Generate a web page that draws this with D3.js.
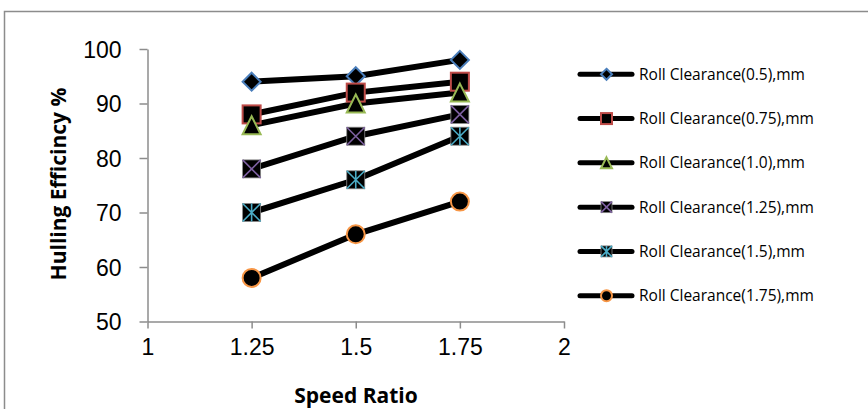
<!DOCTYPE html>
<html><head><meta charset="utf-8">
<script src="https://cdn.jsdelivr.net/npm/d3@7"></script>
<style>body{margin:0;background:#fff;} svg{display:block;}</style>
</head><body>
<svg id="c" width="868" height="409"></svg>
<script>
const speedRatios = [1.25, 1.5, 1.75];
const seriesNames = ["Roll Clearance(0.5),mm","Roll Clearance(0.75),mm","Roll Clearance(1.0),mm","Roll Clearance(1.25),mm","Roll Clearance(1.5),mm","Roll Clearance(1.75),mm"];
const rc050 = [94, 95, 98];
const rc075 = [88, 92, 94];
const rc100 = [86, 90, 92];
const rc125 = [78, 84, 88];
const rc150 = [70, 76, 84];
const rc175 = [58, 66, 72];
const xTicks = [1, 1.25, 1.5, 1.75, 2];
const yTicks = [50, 60, 70, 80, 90, 100];
const markerTypes = ["diamond","square","triangle","x","star","circle"];
const markerColors = ["#4a7ebb","#be4b48","#98b954","#7d60a0","#4bacc6","#f79646"];
const allSeries = [rc050, rc075, rc100, rc125, rc150, rc175];

const svg = d3.select("#c");
// outer border
svg.append("rect").attr("x",4.5).attr("y",11.5).attr("width",900).attr("height",500)
  .attr("fill","none").attr("stroke","#8c8c8c").attr("stroke-width",1.5);

const x = d3.scaleLinear().domain([1,2]).range([147.5,564]);
const y = d3.scaleLinear().domain([50,100]).range([321.5,49]);

const axisColor = "#8c8c8c";
const gx = svg.append("g").attr("transform","translate(0,321.5)")
  .call(d3.axisBottom(x).tickValues(xTicks).tickSize(7).tickSizeOuter(0).tickPadding(6).tickFormat(d3.format("")));
const gy = svg.append("g").attr("transform","translate(147.5,0)")
  .call(d3.axisLeft(y).tickValues(yTicks).tickSize(8).tickSizeOuter(0).tickPadding(18));
[gx, gy].forEach(g => {
  g.select(".domain").attr("stroke",axisColor).attr("stroke-width",1.5);
  g.selectAll(".tick line").attr("stroke",axisColor).attr("stroke-width",1.5);
  g.selectAll(".tick text").attr("fill","#000").style("font-family","'Liberation Sans', Arial, sans-serif").style("font-size","23px");
});
gx.selectAll(".tick text").attr("dy","0.9em");
gy.selectAll(".tick text").attr("dy","0.35em");

// axis titles
svg.append("text").attr("x",356).attr("y",403).attr("text-anchor","middle")
  .style("font-family","'Open Sans', sans-serif").style("font-weight","bold").style("font-size","21px").text("Speed Ratio");
svg.append("text").attr("transform","translate(66,184) rotate(-90)").attr("text-anchor","middle")
  .style("font-family","'Open Sans', sans-serif").style("font-weight","bold").style("font-size","21px").text("Hulling Efficincy %");

function drawMarker(g, type, color, s) {
  const h = s/2;
  if (type === "diamond") {
    g.append("path").attr("d",`M0,${-h}L${h},0L0,${h}L${-h},0Z`).attr("fill","#000").attr("stroke",color).attr("stroke-width",2);
  } else if (type === "square") {
    g.append("rect").attr("x",-h).attr("y",-h).attr("width",s).attr("height",s).attr("fill","#000").attr("stroke",color).attr("stroke-width",2);
  } else if (type === "triangle") {
    g.append("path").attr("d",`M0,${-h}L${h},${h}L${-h},${h}Z`).attr("fill","#000").attr("stroke",color).attr("stroke-width",2);
  } else if (type === "x") {
    g.append("rect").attr("x",-h).attr("y",-h).attr("width",s).attr("height",s).attr("fill","#000").attr("stroke","#888").attr("stroke-width",0.8);
    g.append("path").attr("d",`M${-h},${-h}L${h},${h}M${h},${-h}L${-h},${h}`).attr("stroke",color).attr("stroke-width",1.6);
  } else if (type === "star") {
    g.append("rect").attr("x",-h).attr("y",-h).attr("width",s).attr("height",s).attr("fill","#000").attr("stroke","#888").attr("stroke-width",0.8);
    g.append("path").attr("d",`M${-h},${-h}L${h},${h}M${h},${-h}L${-h},${h}M0,${-h}L0,${h}`).attr("stroke",color).attr("stroke-width",1.6);
  } else if (type === "circle") {
    g.append("circle").attr("r",h).attr("fill","#000").attr("stroke",color).attr("stroke-width",2);
  }
}

const line = d3.line().x((d,i)=>x(speedRatios[i])).y(d=>y(d));
allSeries.forEach((vals, si) => {
  svg.append("path").datum(vals).attr("d",line).attr("fill","none").attr("stroke","#000").attr("stroke-width",6);
});
allSeries.forEach((vals, si) => {
  vals.forEach((v,i) => {
    const g = svg.append("g").attr("transform",`translate(${x(speedRatios[i])},${y(v)})`);
    drawMarker(g, markerTypes[si], markerColors[si], 18);
  });
});

// legend
const legendY = d3.scalePoint().domain(seriesNames).range([74.3, 295.7]);
seriesNames.forEach((name, si) => {
  const ly = legendY(name);
  svg.append("line").attr("x1",580).attr("x2",632).attr("y1",ly).attr("y2",ly).attr("stroke","#000").attr("stroke-width",5).attr("stroke-linecap","round");
  const g = svg.append("g").attr("transform",`translate(606.5,${ly})`);
  drawMarker(g, markerTypes[si], markerColors[si], 11);
  svg.append("text").attr("x",639).attr("y",ly).attr("dy","0.35em")
    .style("font-family","'Open Sans', sans-serif").style("font-size","15.5px").text(name);
});
</script>
</body></html>
